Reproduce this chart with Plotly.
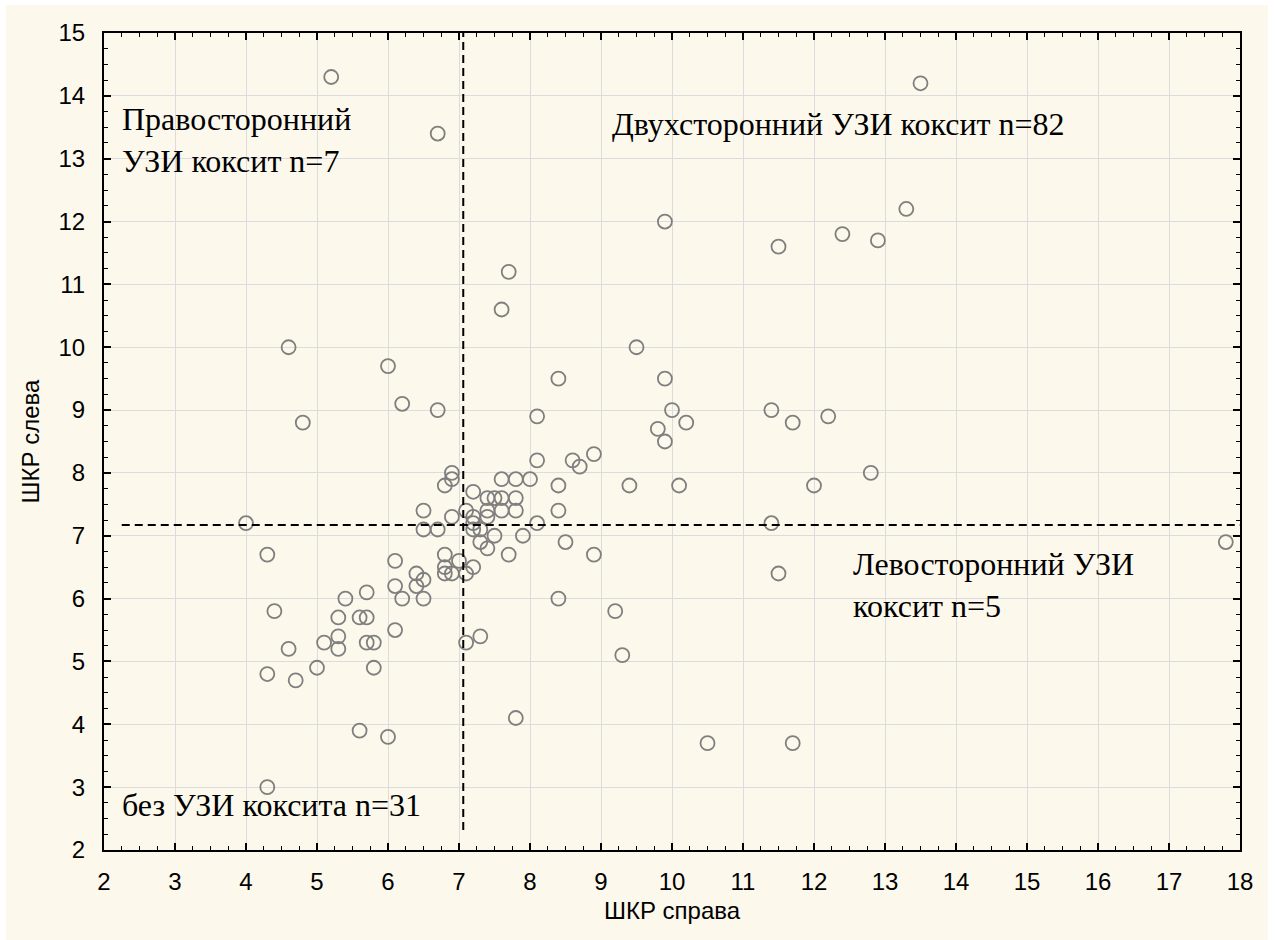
import plotly.graph_objects as go

# ШКР справа (x) и ШКР слева (y)
shkr_right = [5.2, 13.5, 6.7, 13.3, 9.9, 12.4, 12.9, 11.5, 7.7, 7.6,
              4.6, 9.5, 6.0, 8.4, 9.9, 6.2, 6.7, 10.0, 11.4, 8.1,
              12.2, 4.8, 10.2, 11.7, 9.8, 9.9, 8.9, 8.1, 8.6, 8.7,
              12.8, 6.9, 6.9, 7.6, 7.8, 8.0, 6.8, 8.4, 9.4, 10.1,
              12.0, 7.2, 7.4, 7.5, 7.6, 7.8, 6.5, 7.1, 7.4, 7.6,
              7.8, 8.4, 6.9, 7.2, 7.4, 4.0, 7.2, 8.1, 11.4, 6.5,
              6.7, 7.2, 7.3, 7.5, 7.9, 7.3, 8.5, 17.8, 7.4, 4.3,
              6.8, 7.7, 8.9, 6.1, 7.0, 6.8, 7.2, 6.4, 6.8, 6.9,
              7.1, 11.5, 6.5, 6.1, 6.4, 5.7, 5.4, 6.2, 6.5, 8.4,
              4.4, 9.2, 5.3, 5.6, 5.7, 6.1, 5.3, 7.3, 5.1, 5.7,
              5.8, 7.1, 4.6, 5.3, 9.3, 5.0, 5.8, 4.3, 4.7, 7.8,
              5.6, 6.0, 10.5, 11.7, 4.3]
shkr_left = [14.3, 14.2, 13.4, 12.2, 12.0, 11.8, 11.7, 11.6, 11.2, 10.6,
             10.0, 10.0, 9.7, 9.5, 9.5, 9.1, 9.0, 9.0, 9.0, 8.9,
             8.9, 8.8, 8.8, 8.8, 8.7, 8.5, 8.3, 8.2, 8.2, 8.1,
             8.0, 8.0, 7.9, 7.9, 7.9, 7.9, 7.8, 7.8, 7.8, 7.8,
             7.8, 7.7, 7.6, 7.6, 7.6, 7.6, 7.4, 7.4, 7.4, 7.4,
             7.4, 7.4, 7.3, 7.3, 7.3, 7.2, 7.2, 7.2, 7.2, 7.1,
             7.1, 7.1, 7.1, 7.0, 7.0, 6.9, 6.9, 6.9, 6.8, 6.7,
             6.7, 6.7, 6.7, 6.6, 6.6, 6.5, 6.5, 6.4, 6.4, 6.4,
             6.4, 6.4, 6.3, 6.2, 6.2, 6.1, 6.0, 6.0, 6.0, 6.0,
             5.8, 5.8, 5.7, 5.7, 5.7, 5.5, 5.4, 5.4, 5.3, 5.3,
             5.3, 5.3, 5.2, 5.2, 5.1, 4.9, 4.9, 4.8, 4.7, 4.1,
             3.9, 3.8, 3.7, 3.7, 3.0]

# threshold (dashed) lines
thr_x = 7.06
thr_y = 7.17
vline_y = [2.32, 15.0]
hline_x = [2.25, 18.0]

# quadrant labels
ann_text = ["Правосторонний<br>УЗИ коксит n=7",
            "Двухсторонний УЗИ коксит n=82",
            "Левосторонний УЗИ<br>коксит n=5",
            "без УЗИ коксита n=31"]
ann_x = [2.22, 9.13, 12.52, 2.22]
ann_y = [13.30, 13.55, 6.22, 2.72]

x_ticks = list(range(2, 19))
y_ticks = list(range(2, 16))

fig = go.Figure()

fig.add_trace(go.Scatter(
    x=shkr_right, y=shkr_left, mode="markers",
    marker=dict(symbol="circle-open", size=14, color="#7f7f7f",
                line=dict(width=1.8, color="#7f7f7f")),
    showlegend=False, hoverinfo="x+y"))

fig.add_trace(go.Scatter(
    x=[thr_x, thr_x], y=vline_y, mode="lines",
    line=dict(color="black", width=2, dash="8px,5px"),
    showlegend=False, hoverinfo="skip"))
fig.add_trace(go.Scatter(
    x=hline_x, y=[thr_y, thr_y], mode="lines",
    line=dict(color="black", width=2, dash="8px,5px"),
    showlegend=False, hoverinfo="skip"))

for t, ax_, ay_ in zip(ann_text, ann_x, ann_y):
    fig.add_annotation(x=ax_, y=ay_, xref="x", yref="y", text=t,
                       showarrow=False, xanchor="left", yanchor="middle",
                       align="left",
                       font=dict(family="Liberation Serif, Times New Roman, serif",
                                 size=32, color="black"))

# cream page background with thin white border
fig.add_shape(type="rect", xref="paper", yref="paper",
              x0=-0.0863, x1=1.0246, y0=-0.2, y1=1.0343,
              fillcolor="#FDF8EC", line=dict(width=0), layer="below")

axis_common = dict(
    showline=True, linecolor="black", linewidth=2, mirror="allticks",
    ticks="inside", ticklen=7, tickwidth=1.5, tickcolor="black",
    showgrid=True, gridcolor="#dcdcdc", gridwidth=1,
    zeroline=False,
    tickfont=dict(family="Liberation Sans, Arial, sans-serif", size=24, color="black"),
    minor=dict(dtick=0.25, ticks="inside", ticklen=4, tickwidth=1.2,
               tickcolor="black", showgrid=False),
)

fig.update_xaxes(range=[2, 18], tickvals=x_ticks, ticklabelstandoff=9,
                 title=dict(text="ШКР справа", standoff=8,
                            font=dict(family="Liberation Sans, Arial, sans-serif",
                                      size=24, color="black")),
                 **axis_common)
fig.update_yaxes(range=[2, 15], tickvals=y_ticks, ticklabelstandoff=12,
                 title=dict(text="ШКР слева", standoff=12,
                            font=dict(family="Liberation Sans, Arial, sans-serif",
                                      size=24, color="black")),
                 **axis_common)

fig.update_layout(
    width=1275, height=940,
    margin=dict(l=104, r=35, t=33, b=90, autoexpand=False),
    paper_bgcolor="white", plot_bgcolor="white",
)

fig.write_html("out.html")
